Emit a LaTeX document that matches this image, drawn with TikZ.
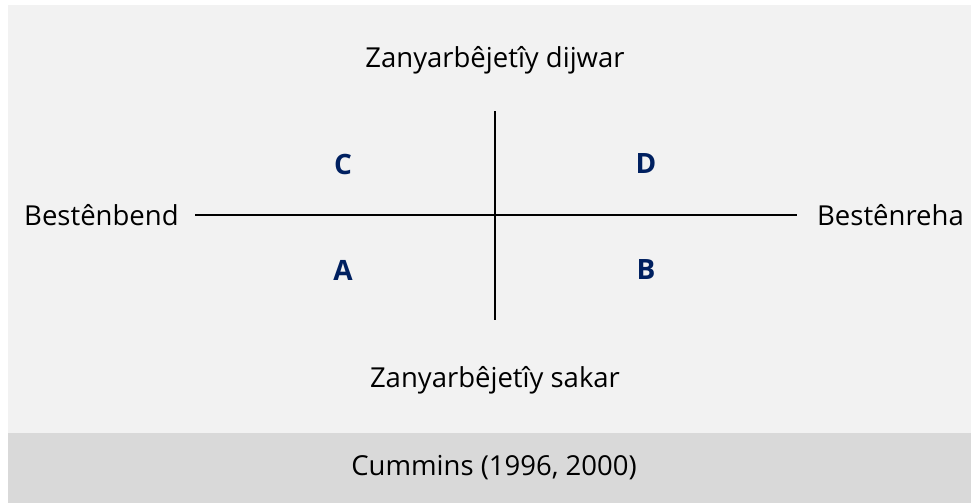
\documentclass[tikz,border=0pt]{standalone}
\usepackage{fontspec}
\setmainfont{Open Sans}
\definecolor{bgA}{HTML}{F2F2F2}
\definecolor{bgB}{HTML}{D9D9D9}
\definecolor{navy}{HTML}{002060}
\begin{document}
\begin{tikzpicture}[x=1pt,y=-1pt,
  lbl/.style={font=\fontsize{27.5}{32}\selectfont, inner sep=0pt, anchor=center},
  quad/.style={font=\fontsize{28}{32}\selectfont\bfseries, text=navy, inner sep=0pt, anchor=center},
  axis/.style={line width=2.2pt}]
\useasboundingbox (0,0) rectangle (971,503);
\fill[white] (0,0) rectangle (971,503);
\fill[bgA] (8,5) rectangle (971,433);
\fill[bgB] (8,433) rectangle (971,503);
\node[lbl] (top) at (495,60) {Zanyarbêjetîy dijwar};
\node[lbl] (bot) at (495,380) {Zanyarbêjetîy sakar};
\node[lbl, anchor=west] (left) at (24,215) {Bestênbend};
\node[lbl, anchor=east] (right) at (964,215) {Bestênreha};
\node[lbl] (src) at (494,468) {Cummins (1996, 2000)};
\coordinate (vt) at (495,111);
\coordinate (vb) at (495,320);
\coordinate (hl) at (195,215);
\coordinate (hr) at (797,215);
\draw[axis] (vt) -- (vb);
\draw[axis] (hl) -- (hr);
\node[quad] (C) at (343,164) {C};
\node[quad] (D) at (646,164) {D};
\node[quad] (A) at (343,270) {A};
\node[quad] (B) at (646,270) {B};
\end{tikzpicture}
\end{document}
